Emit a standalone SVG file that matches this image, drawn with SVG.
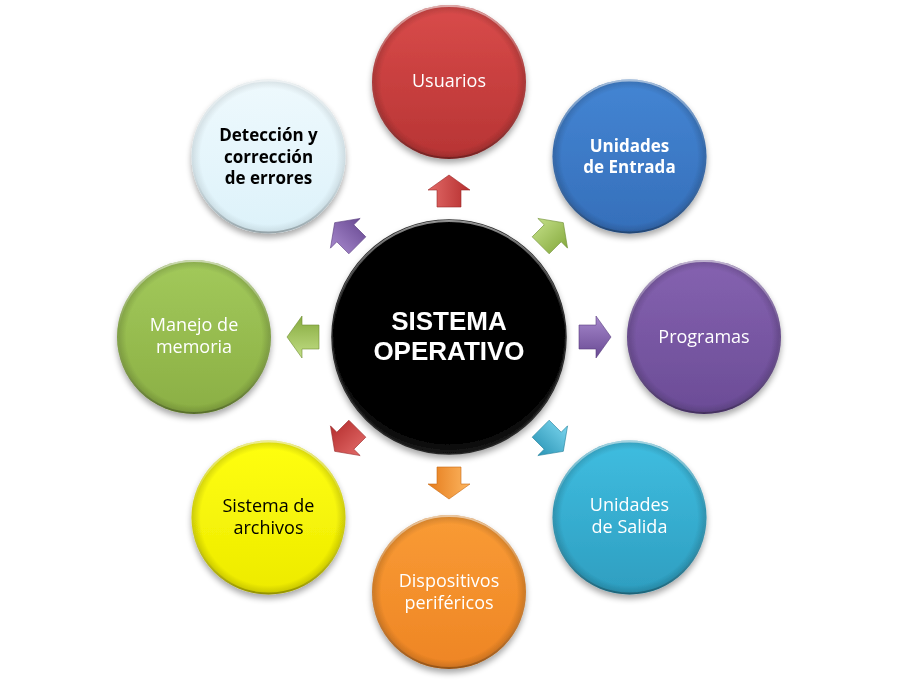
<svg xmlns="http://www.w3.org/2000/svg" xmlns:xlink="http://www.w3.org/1999/xlink" width="898" height="683" viewBox="0 0 898 683">
  <style>
    .lbl { font-family: "Open Sans", "Lato", "Liberation Sans", sans-serif; font-size: 18px; text-anchor: middle; fill: #ffffff; }
    .bold { font-weight: bold; font-size: 17px; }
    .dark { fill: #000000; }
    .core { font-family: "Liberation Sans", Arial, sans-serif; font-size: 26px; font-weight: bold; text-anchor: middle; fill: #ffffff; }
    .rim { fill: url(#rim); }
    .edge { fill: none; stroke: url(#edge); stroke-width: 2; }
  </style>
  <defs>
    <filter id="shadow" x="-20%" y="-20%" width="140%" height="150%">
      <feGaussianBlur in="SourceAlpha" stdDeviation="3"/>
      <feOffset dx="0" dy="4" result="b"/>
      <feComponentTransfer><feFuncA type="linear" slope="0.35"/></feComponentTransfer>
      <feMerge><feMergeNode/><feMergeNode in="SourceGraphic"/></feMerge>
    </filter>
    <radialGradient id="rim" cx="0.5" cy="0.5" r="0.5">
      <stop offset="0.88" stop-color="#000" stop-opacity="0"/>
      <stop offset="1" stop-color="#000" stop-opacity="0.18"/>
    </radialGradient>
    <linearGradient id="edge" x1="0" y1="0" x2="0" y2="1">
      <stop offset="0" stop-color="#fff" stop-opacity="0.55"/>
      <stop offset="0.45" stop-color="#fff" stop-opacity="0"/>
      <stop offset="1" stop-color="#000" stop-opacity="0.25"/>
    </linearGradient>
    <linearGradient id="gRed" x1="0" y1="0" x2="0" y2="1"><stop offset="0" stop-color="#D94B4A"/><stop offset="1" stop-color="#B73434"/></linearGradient>
    <linearGradient id="gBlue" x1="0" y1="0" x2="0" y2="1"><stop offset="0" stop-color="#4485D3"/><stop offset="1" stop-color="#356FBA"/></linearGradient>
    <linearGradient id="gPurple" x1="0" y1="0" x2="0" y2="1"><stop offset="0" stop-color="#8562B0"/><stop offset="1" stop-color="#6B4C96"/></linearGradient>
    <linearGradient id="gCyan" x1="0" y1="0" x2="0" y2="1"><stop offset="0" stop-color="#3FBDE0"/><stop offset="1" stop-color="#2E9EC0"/></linearGradient>
    <linearGradient id="gOrange" x1="0" y1="0" x2="0" y2="1"><stop offset="0" stop-color="#F99B35"/><stop offset="1" stop-color="#EE8524"/></linearGradient>
    <linearGradient id="gYellow" x1="0" y1="0" x2="0" y2="1"><stop offset="0" stop-color="#FFFF10"/><stop offset="1" stop-color="#EDEA00"/></linearGradient>
    <linearGradient id="gGreen" x1="0" y1="0" x2="0" y2="1"><stop offset="0" stop-color="#A2C95B"/><stop offset="1" stop-color="#8BAF44"/></linearGradient>
    <linearGradient id="gIce" x1="0" y1="0" x2="0" y2="1"><stop offset="0" stop-color="#EEF9FD"/><stop offset="1" stop-color="#DDF2FA"/></linearGradient>
    <radialGradient id="gBlack" cx="0.5" cy="0.45" r="0.55">
      <stop offset="0" stop-color="#050505"/><stop offset="0.9" stop-color="#000"/><stop offset="1" stop-color="#1a1a1a"/>
    </radialGradient>
    <linearGradient id="aRed" x1="0" y1="0" x2="0" y2="1"><stop offset="0" stop-color="#E26A68"/><stop offset="1" stop-color="#B52E2E"/></linearGradient>
    <linearGradient id="aGreen" x1="0" y1="0" x2="0" y2="1"><stop offset="0" stop-color="#C2DE86"/><stop offset="1" stop-color="#86AA3E"/></linearGradient>
    <linearGradient id="aPurple" x1="0" y1="0" x2="0" y2="1"><stop offset="0" stop-color="#A688CC"/><stop offset="1" stop-color="#694A93"/></linearGradient>
    <linearGradient id="aCyan" x1="0" y1="0" x2="0" y2="1"><stop offset="0" stop-color="#7AD5EE"/><stop offset="1" stop-color="#2A94B5"/></linearGradient>
    <linearGradient id="aOrange" x1="0" y1="0" x2="0" y2="1"><stop offset="0" stop-color="#FDB661"/><stop offset="1" stop-color="#E57C1C"/></linearGradient>
    <path id="arrow" d="M-16,-12 L1,-12 L1,-21 L16,0 L1,21 L1,12 L-16,12 Z"/>
  </defs>

  <g id="connectors">
    <use href="#arrow" fill="url(#aRed)" stroke="#9a2a2a" stroke-width="0.6" transform="translate(449,191) rotate(-90)"/>
    <use href="#arrow" fill="url(#aGreen)" stroke="#6f8f33" stroke-width="0.6" transform="translate(552,234) rotate(-45)"/>
    <use href="#arrow" fill="url(#aPurple)" stroke="#5a3e80" stroke-width="0.6" transform="translate(595,337)"/>
    <use href="#arrow" fill="url(#aCyan)" stroke="#22809c" stroke-width="0.6" transform="translate(552,440) rotate(45)"/>
    <use href="#arrow" fill="url(#aOrange)" stroke="#c86a14" stroke-width="0.6" transform="translate(449,483) rotate(90)"/>
    <use href="#arrow" fill="url(#aRed)" stroke="#9a2a2a" stroke-width="0.6" transform="translate(346,440) rotate(135)"/>
    <use href="#arrow" fill="url(#aGreen)" stroke="#6f8f33" stroke-width="0.6" transform="translate(303,337) rotate(180)"/>
    <use href="#arrow" fill="url(#aPurple)" stroke="#5a3e80" stroke-width="0.6" transform="translate(346,234) rotate(-135)"/>
  </g>

  <g id="core" filter="url(#shadow)">
    <circle cx="449" cy="337" r="117" fill="url(#gBlack)" stroke="#2a2a2a" stroke-width="1.5"/>
    <circle cx="449" cy="337" r="116" class="edge"/>
    <text class="core" x="449" y="330">SISTEMA</text>
    <text class="core" x="449" y="360">OPERATIVO</text>
  </g>

  <g id="usuarios" filter="url(#shadow)">
    <circle cx="449" cy="82" r="77" fill="url(#gRed)"/>
    <circle cx="449" cy="82" r="77" class="rim"/>
    <circle cx="449" cy="82" r="76" class="edge"/>
    <text class="lbl" x="449" y="87">Usuarios</text>
  </g>

  <g id="entrada" filter="url(#shadow)">
    <circle cx="629.5" cy="156.5" r="77" fill="url(#gBlue)"/>
    <circle cx="629.5" cy="156.5" r="77" class="rim"/>
    <circle cx="629.5" cy="156.5" r="76" class="edge"/>
    <text class="lbl bold" x="629.5" y="152">Unidades</text>
    <text class="lbl bold" x="629.5" y="173">de Entrada</text>
  </g>

  <g id="programas" filter="url(#shadow)">
    <circle cx="704" cy="337" r="77" fill="url(#gPurple)"/>
    <circle cx="704" cy="337" r="77" class="rim"/>
    <circle cx="704" cy="337" r="76" class="edge"/>
    <text class="lbl" x="704" y="343">Programas</text>
  </g>

  <g id="salida" filter="url(#shadow)">
    <circle cx="629.5" cy="517.5" r="77" fill="url(#gCyan)"/>
    <circle cx="629.5" cy="517.5" r="77" class="rim"/>
    <circle cx="629.5" cy="517.5" r="76" class="edge"/>
    <text class="lbl" x="629.5" y="511">Unidades</text>
    <text class="lbl" x="629.5" y="533">de Salida</text>
  </g>

  <g id="dispositivos" filter="url(#shadow)">
    <circle cx="449" cy="592" r="77" fill="url(#gOrange)"/>
    <circle cx="449" cy="592" r="77" class="rim"/>
    <circle cx="449" cy="592" r="76" class="edge"/>
    <text class="lbl" x="449" y="587">Dispositivos</text>
    <text class="lbl" x="449" y="609">periféricos</text>
  </g>

  <g id="archivos" filter="url(#shadow)">
    <circle cx="268.5" cy="517.5" r="77" fill="url(#gYellow)"/>
    <circle cx="268.5" cy="517.5" r="77" class="rim"/>
    <circle cx="268.5" cy="517.5" r="76" class="edge"/>
    <text class="lbl dark" x="268.5" y="512">Sistema de</text>
    <text class="lbl dark" x="268.5" y="534">archivos</text>
  </g>

  <g id="memoria" filter="url(#shadow)">
    <circle cx="194" cy="337" r="77" fill="url(#gGreen)"/>
    <circle cx="194" cy="337" r="77" class="rim"/>
    <circle cx="194" cy="337" r="76" class="edge"/>
    <text class="lbl" x="194" y="331">Manejo de</text>
    <text class="lbl" x="194" y="353">memoria</text>
  </g>

  <g id="errores" filter="url(#shadow)">
    <circle cx="268.5" cy="156.5" r="77" fill="url(#gIce)"/>
    <circle cx="268.5" cy="156.5" r="77" class="rim" opacity="0.6"/>
    <circle cx="268.5" cy="156.5" r="76" class="edge"/>
    <text class="lbl bold dark" x="268.5" y="141">Detección y</text>
    <text class="lbl bold dark" x="268.5" y="163">corrección</text>
    <text class="lbl bold dark" x="268.5" y="184">de errores</text>
  </g>
</svg>
